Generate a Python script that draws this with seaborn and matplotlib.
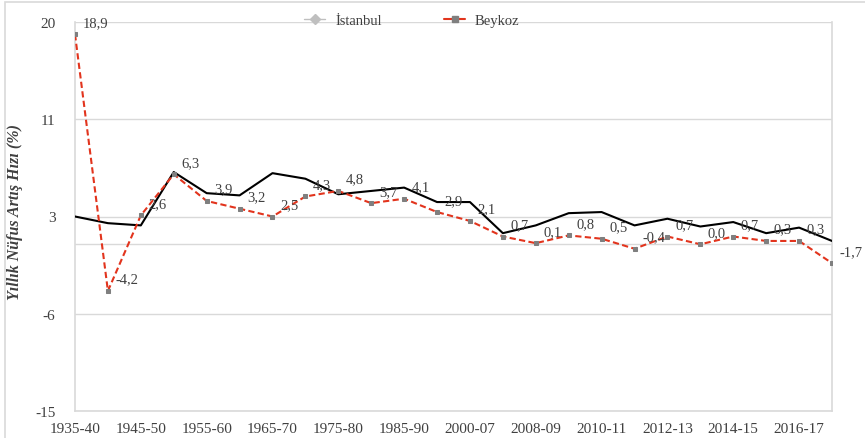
import numpy as np
import pandas as pd
import matplotlib
matplotlib.use("Agg")
import matplotlib.pyplot as plt
import seaborn as sns
from matplotlib.lines import Line2D
from matplotlib.patches import Rectangle

# periods (every other one is labelled on the axis)
periods = ["1935-40", "1940-45", "1945-50", "1950-55", "1955-60", "1960-65",
           "1965-70", "1970-75", "1975-80", "1980-85", "1985-90", "1990-00",
           "2000-07", "2007-08", "2008-09", "2009-10", "2010-11", "2011-12",
           "2012-13", "2013-14", "2014-15", "2015-16", "2016-17", "2017-18"]

# annual population growth rate (%)
istanbul = [2.5, 1.9, 1.7, 6.5, 4.6, 4.4, 6.4, 5.9, 4.5, 4.8, 5.1, 3.8,
            3.8, 1.0, 1.7, 2.8, 2.9, 1.7, 2.3, 1.6, 2.0, 1.0, 1.5, 0.3]
beykoz = [18.9, -4.2, 2.6, 6.3, 3.9, 3.2, 2.5, 4.3, 4.8, 3.7, 4.1, 2.9,
          2.1, 0.7, 0.1, 0.8, 0.5, -0.4, 0.7, 0.0, 0.7, 0.3, 0.3, -1.7]

y_ticks = [-15, -6.25, 2.5, 11.25, 20]
y_tick_labels = ["-15", "-6", "3", "11", "20"]

df = pd.DataFrame({"x": np.arange(len(periods)), "period": periods,
                   "İstanbul": istanbul, "Beykoz": beykoz})

sns.set_style("white")
plt.rcParams["font.family"] = ["Liberation Serif", "DejaVu Serif"]

fig = plt.figure(figsize=(8.65, 4.39), dpi=100)
ax = fig.add_axes([75 / 865, 1 - 412 / 439, (832 - 75) / 865, (412 - 23) / 439])

# chart border
fig.patches.append(Rectangle((5 / 865, -0.02), 1.1, 1 - 3 / 439 + 0.02,
                             transform=fig.transFigure, fill=False,
                             edgecolor="#d9d9d9", lw=1.2))

grid_c = "#d9d9d9"
for t in y_ticks:
    ax.axhline(t, color=grid_c, lw=1, zorder=0)
ax.axhline(0, color=grid_c, lw=1, zorder=0)

sns.lineplot(data=df, x="x", y="İstanbul", color="black", lw=1.5, ax=ax,
             zorder=3)
sns.lineplot(data=df, x="x", y="Beykoz", color="#e2341d", lw=1.5, ax=ax,
             linestyle=(0, (3, 1.6)), marker="s", markersize=3.5,
             markerfacecolor="#7f7f7f", markeredgecolor="#7f7f7f", zorder=4)

for i, v in enumerate(beykoz):
    ax.annotate(f"{v:.1f}".replace(".", ","), (i, v), xytext=(5.5, 8.5),
                textcoords="offset points", ha="left", va="center",
                fontsize=10.5, color="#404040", zorder=5)

ax.set_xlim(0, len(periods) - 1)
ax.set_ylim(-15, 20)
ax.set_yticks(y_ticks)
ax.set_yticklabels(y_tick_labels)
ax.set_xticks(df["x"][::2])
ax.set_xticklabels(df["period"][::2])
ax.tick_params(axis="both", length=0, labelsize=11, colors="#404040")
ax.tick_params(axis="y", pad=14)
ax.tick_params(axis="x", pad=8)
ax.set_xlabel("")
ax.set_ylabel("")
for s in ax.spines.values():
    s.set_color(grid_c)
    s.set_linewidth(1.2)
ax.spines["top"].set_visible(False)

fig.text(15 / 865, 1 - 212 / 439, "Yıllık Nüfus Artış Hızı (%)", rotation=90,
         ha="center", va="center", fontsize=11.5, fontweight="bold",
         fontstyle="italic", color="#404040")

handles = [Line2D([], [], color="#bfbfbf", lw=1, marker="D", markersize=5,
                  markerfacecolor="#bfbfbf", markeredgecolor="#bfbfbf"),
           Line2D([], [], color="#e2341d", lw=1.5, marker="s", markersize=5,
                  markerfacecolor="#7f7f7f", markeredgecolor="#7f7f7f")]
fig.legend(handles, ["İstanbul", "Beykoz"], loc="center",
           bbox_to_anchor=(412 / 865, 1 - 21 / 439), ncol=2, frameon=False,
           fontsize=10.5, handlelength=1.4, handletextpad=0.7,
           columnspacing=4.3, labelcolor="#404040")

fig.savefig("out.png", dpi=100)
